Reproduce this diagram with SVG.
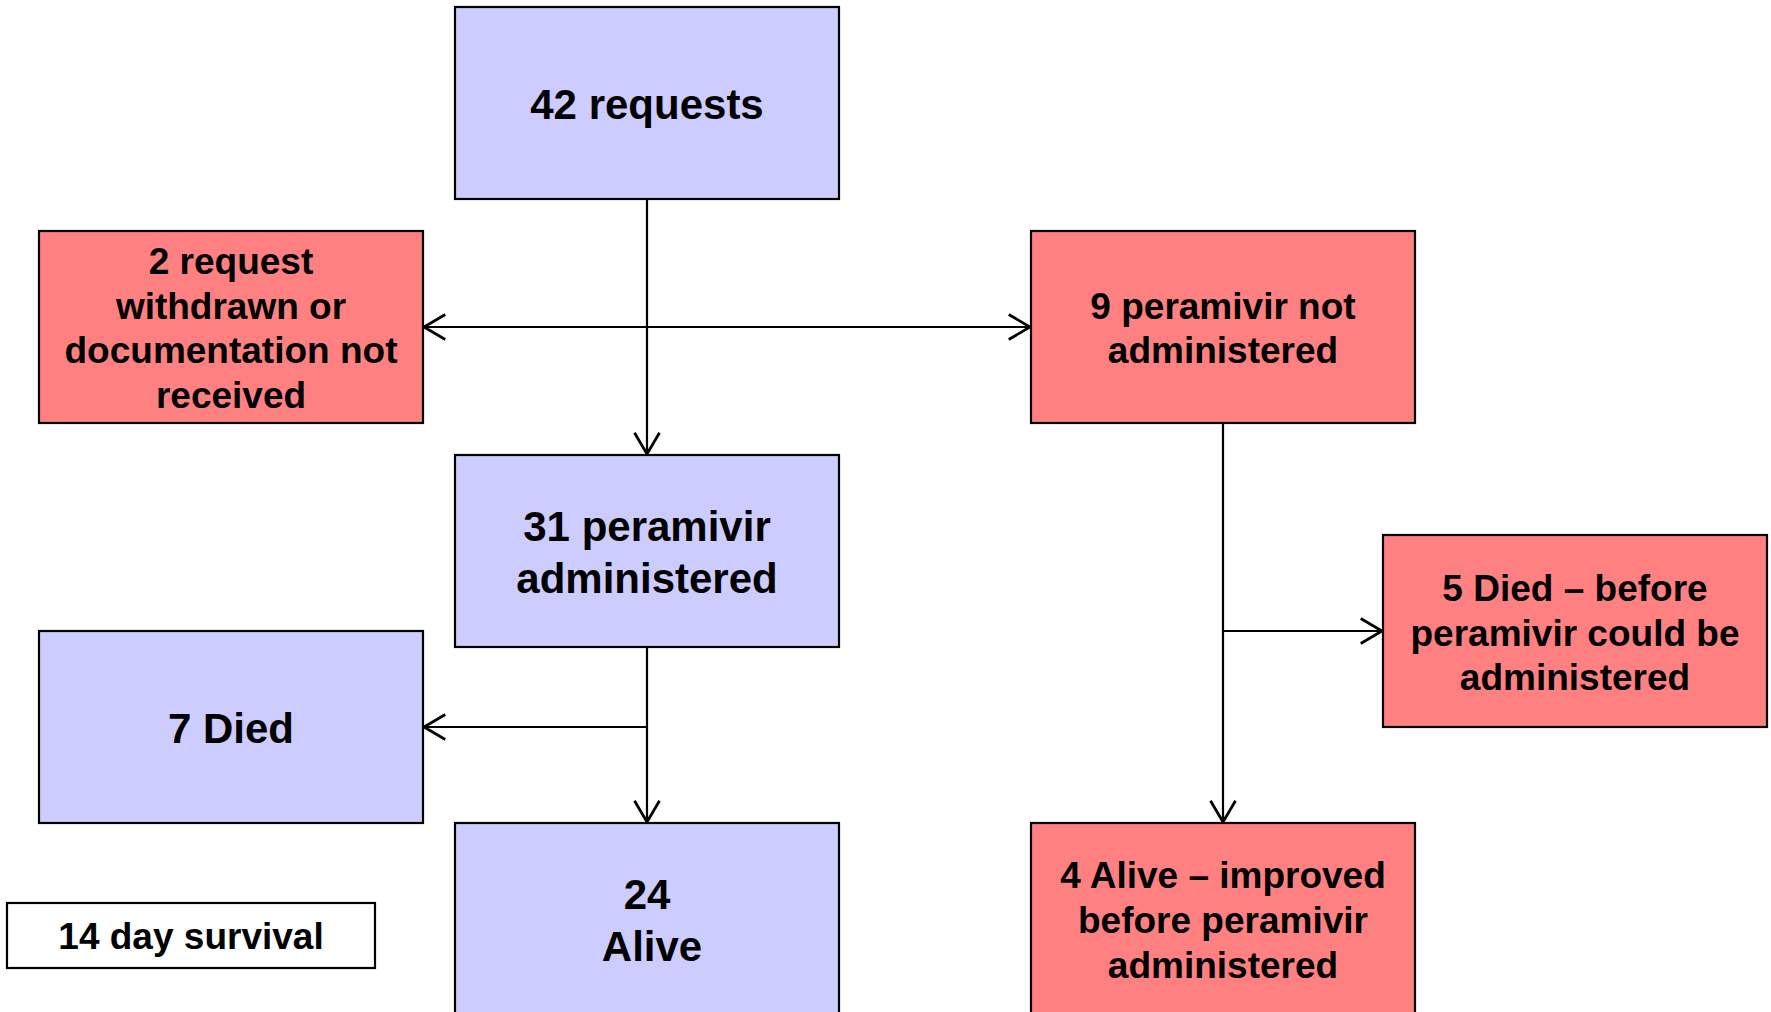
<svg xmlns="http://www.w3.org/2000/svg" width="1771" height="1012" viewBox="0 0 1771 1012">
<style>
.box{stroke:#000;stroke-width:2.2}
.blue{fill:#CCCCFF}
.red{fill:#FF8080}
.white{fill:#FFFFFF}
text{font-family:"Liberation Sans",Arial,sans-serif;font-weight:bold;fill:#000;text-anchor:middle}
.big{font-size:42px}
.sm{font-size:37px}
.conn{stroke:#000;stroke-width:2.2;fill:none}
</style>
<defs>
<marker id="arr" markerUnits="userSpaceOnUse" markerWidth="30" markerHeight="30" viewBox="-20 -12 22 24" refX="0" refY="0" orient="auto-start-reverse">
<path d="M-17,-10 L0,0 L-17,10" fill="none" stroke="#000" stroke-width="2.2"/>
</marker>
</defs>
<rect width="1771" height="1012" fill="#fff"/>
<g id="connectors">
<line class="conn" x1="647" y1="199" x2="647" y2="454" marker-end="url(#arr)"/>
<line class="conn" x1="424" y1="327" x2="1030" y2="327" marker-start="url(#arr)" marker-end="url(#arr)"/>
<line class="conn" x1="647" y1="647" x2="647" y2="822" marker-end="url(#arr)"/>
<line class="conn" x1="647" y1="727" x2="424" y2="727" marker-end="url(#arr)"/>
<line class="conn" x1="1223" y1="423" x2="1223" y2="822" marker-end="url(#arr)"/>
<line class="conn" x1="1223" y1="631" x2="1382" y2="631" marker-end="url(#arr)"/>
</g>
<g id="n42">
<rect class="box blue" x="455" y="7" width="384" height="192"/>
<text class="big" x="647" y="119">42 requests</text>
</g>
<g id="n2withdrawn">
<rect class="box red" x="39" y="231" width="384" height="192"/>
<text class="sm" x="231" y="274">2 request</text>
<text class="sm" x="231" y="319">withdrawn or</text>
<text class="sm" x="231" y="363">documentation not</text>
<text class="sm" x="231" y="408">received</text>
</g>
<g id="n9">
<rect class="box red" x="1031" y="231" width="384" height="192"/>
<text class="sm" x="1223" y="319">9 peramivir not</text>
<text class="sm" x="1223" y="363">administered</text>
</g>
<g id="n31">
<rect class="box blue" x="455" y="455" width="384" height="192"/>
<text class="big" x="647" y="541">31 peramivir</text>
<text class="big" x="647" y="593">administered</text>
</g>
<g id="n7died">
<rect class="box blue" x="39" y="631" width="384" height="192"/>
<text class="big" x="231" y="743">7 Died</text>
</g>
<g id="n24alive">
<rect class="box blue" x="455" y="823" width="384" height="200"/>
<text class="big" x="647" y="909">24</text>
<text class="big" x="652" y="961">Alive</text>
</g>
<g id="n5died">
<rect class="box red" x="1383" y="535" width="384" height="192"/>
<text class="sm" x="1575" y="601">5 Died – before</text>
<text class="sm" x="1575" y="646">peramivir could be</text>
<text class="sm" x="1575" y="690">administered</text>
</g>
<g id="n4alive">
<rect class="box red" x="1031" y="823" width="384" height="200"/>
<text class="sm" x="1223" y="888">4 Alive – improved</text>
<text class="sm" x="1223" y="933">before peramivir</text>
<text class="sm" x="1223" y="978">administered</text>
</g>
<g id="legend">
<rect class="box white" x="7" y="903" width="368" height="65"/>
<text class="sm" x="191" y="949">14 day survival</text>
</g>
</svg>
